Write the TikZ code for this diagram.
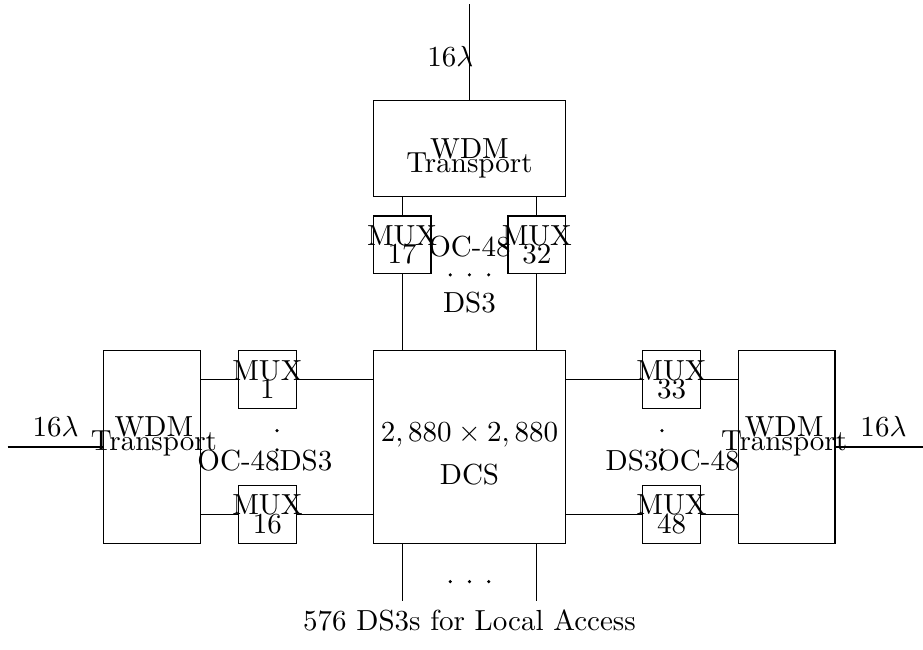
\documentclass[tikz,border=0pt]{standalone}
\usepackage{amsmath}
\usepackage{amssymb}
\usetikzlibrary{positioning}
\newcommand{\muxtext}[1]{\makebox[0pt]{MUX}\\[-5.7pt]\makebox[0pt]{#1}}
\tikzset{box/.style={draw, inner sep=0pt},
mux/.style={box, minimum size=0.699cm, align=center},
wdm/.style={box, minimum width=1.165cm, minimum height=2.33cm},
lbl/.style={align=center},
}

\begin{document}
\begin{tikzpicture}[x=0.233cm, y=0.233cm]
            \useasboundingbox (-24.4,-10.5) rectangle (23.57,23.23);
            \node[box, minimum width=2.33cm, minimum height=2.33cm](dcs) at (0,0) {};
            \node[box, minimum width=2.33cm, minimum height=1.165cm](wdmT) at (0,15.5) {};
            \node[wdm](wdmL) at (-16.5,0) {};
            \node[wdm](wdmR) at (16.5,0) {};
            \node[mux](mux17) at (-3.5,10.5) {\muxtext{17}};
            \node[mux](mux32) at (3.5,10.5) {\muxtext{32}};
            \node[mux](mux1) at (-10.5,3.5) {\muxtext{1}};
            \node[mux](mux16) at (-10.5,-3.5) {\muxtext{16}};
            \node[mux](mux33) at (10.5,3.5) {\muxtext{33}};
            \node[mux](mux48) at (10.5,-3.5) {\muxtext{48}};
            \coordinate (inT) at (0,23);
            \coordinate (inL) at (-24,0);
            \coordinate (inR) at (24,0);
            \coordinate (outA) at (-3.5,-8);
            \coordinate (outB) at (3.5,-8);

            \node[lbl](txtT) at (0,15) {WDM\\[-7.3pt]Transport};
            \node[lbl](txtL) at (-16.4,0.55) {WDM\\[-7.3pt]Transport};
            \node[lbl](txtR) at (16.35,0.55) {WDM\\[-7.3pt]Transport};
            \node[lbl](txtD) at (0,-0.36) {$2,880\times 2,880$\\[2.9pt]DCS};
            \node(ocT) at (0,10.4) {OC-48};
            \node(dsT) at (0,7.5) {DS3};
            \node(ocL) at (-12,-0.7) {OC-48};
            \node(dsL) at (-8.5,-0.7) {DS3};
            \node(dsR) at (8.45,-0.7) {DS3};
            \node(ocR) at (11.9,-0.7) {OC-48};
            \node(lamT) at (-1,20.3) {$16\lambda$};
            \node(cap) at (0,-9) {576 DS3s for Local Access};

            \draw (inT) -- (wdmT)
                (inL) -- node[above](lamL){$16\lambda$} (wdmL)
                (inR) -- node[above](lamR){$16\lambda$} (wdmR)
                (mux17.north |- wdmT.south) -- (mux17.north)
                (mux32.north |- wdmT.south) -- (mux32.north)
                (mux17.south) -- (mux17.south |- dcs.north)
                (mux32.south) -- (mux32.south |- dcs.north)
                (mux1.west -| wdmL.east) -- (mux1.west)
                (mux1.east) -- (mux1.east -| dcs.west)
                (mux16.west -| wdmL.east) -- (mux16.west)
                (mux16.east) -- (mux16.east -| dcs.west)
                (mux33.west -| dcs.east) -- (mux33.west)
                (mux33.east) -- (mux33.east -| wdmR.west)
                (mux48.west -| dcs.east) -- (mux48.west)
                (mux48.east) -- (mux48.east -| wdmR.west)
                (outA |- dcs.south) -- (outA)
                (outB |- dcs.south) -- (outB)
                ;
            \foreach \x in {-1,0,1} {
                \fill (\x,8.95) circle (0.6pt);
                \fill (\x,-7) circle (0.6pt);
            }
            \foreach \y in {0.85,-0.15,-1.15} {
                \fill (-10,\y) circle (0.6pt);
                \fill (10,\y) circle (0.6pt);
            }
        \end{tikzpicture}
\end{document}
